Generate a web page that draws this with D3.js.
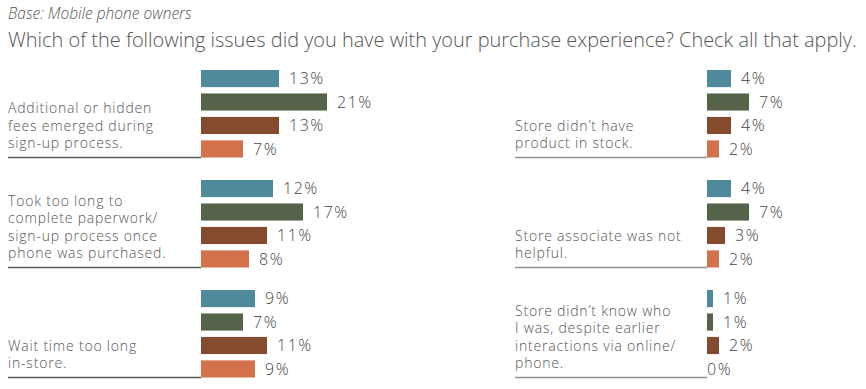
<!DOCTYPE html>
<html>
<head>
<meta charset="utf-8">
<script src="https://cdn.jsdelivr.net/npm/d3@7"></script>
<style>
    body { margin: 0; background: #fff; }
    svg { display: block; }
</style>
</head>
<body>
<div id="chart"></div>
<script>
// chart values
const issues = [
    ["Additional or hidden", "fees emerged during", "sign-up process."],
    ["Took too long to", "complete paperwork/", "sign-up process once", "phone was purchased."],
    ["Wait time too long", "in-store."],
    ["Store didn\u2019t have", "product in stock."],
    ["Store associate was not", "helpful."],
    ["Store didn\u2019t know who", "I was, despite earlier", "interactions via online/", "phone."]
];
const seriesColors = ["#4e8a9b", "#56634b", "#854b2e", "#d2714a"];
const series1 = [13, 12, 9, 4, 4, 1];
const series2 = [21, 17, 7, 7, 7, 1];
const series3 = [13, 11, 11, 4, 3, 2];
const series4 = [7, 8, 9, 2, 2, 0];
const allSeries = [series1, series2, series3, series4];

const baseText = "Base: Mobile phone owners";
const questionText = "Which of the following issues did you have with your purchase experience? Check all that apply.";

const width = 866,
    height = 389;

let svg = d3.select("#chart")
    .append("svg")
    .attr("width", width)
    .attr("height", height);

const font = "'Open Sans', sans-serif";
const textColor = "#555";

svg.append("text")
    .attr("x", 8)
    .attr("y", 19)
    .attr("font-family", font)
    .attr("font-style", "italic")
    .attr("font-weight", 300)
    .attr("font-size", 15.5)
    .attr("fill", textColor)
    .text(baseText);

let q = svg.append("text")
    .attr("x", 8)
    .attr("y", 47)
    .attr("font-family", font)
    .attr("font-weight", 300)
    .attr("font-size", 19)
    .attr("fill", textColor)
    .text(questionText);

// squeeze title to the reference width
let qLen = q.node().getComputedTextLength();
if (qLen > 0) q.attr("font-size", 19 * 849 / qLen);

// layout: two columns, three groups each
const columns = [
    { labelX: 8, barX: 201 },
    { labelX: 515, barX: 707 }
];

let x = d3.scaleLinear().domain([0, 21]).range([0, 126]);
let rowY = d3.scalePoint().domain([0, 1, 2]).range([70, 290]);
let barY = d3.scaleBand().domain(d3.range(4)).range([0, 87.5]).paddingInner(0.27).paddingOuter(0);

let groups = svg.selectAll(".group")
    .data(issues.map((lines, i) => ({
        lines: lines,
        col: columns[Math.floor(i / 3)],
        row: i % 3,
        values: allSeries.map(s => s[i])
    })))
    .enter()
    .append("g")
    .attr("class", "group")
    .attr("transform", d => `translate(0,${rowY(d.row)})`);

let bottom = barY(3) + barY.bandwidth();

// baseline under the label
groups.append("line")
    .attr("x1", d => d.col.labelX)
    .attr("x2", d => d.col.barX)
    .attr("y1", bottom)
    .attr("y2", bottom)
    .attr("stroke", (d, i) => i < 3 ? "#56605c" : "#8a9390")
    .attr("stroke-width", 1.5);

// wrapped category labels, bottom aligned
groups.append("text")
    .attr("font-family", font)
    .attr("font-weight", 300)
    .attr("font-size", 14)
    .attr("letter-spacing", 0.8)
    .attr("fill", textColor)
    .each(function (d) {
        let n = d.lines.length;
        d3.select(this).selectAll("tspan")
            .data(d.lines)
            .enter()
            .append("tspan")
            .attr("x", d.col.labelX)
            .attr("y", (l, k) => bottom - 9.5 - (n - 1 - k) * 17.5)
            .text(l => l);
    });

let bars = groups.selectAll(".bar")
    .data(d => d.values.map((v, k) => ({ v: v, k: k, x0: d.col.barX })))
    .enter();

bars.append("rect")
    .attr("class", "bar")
    .attr("x", d => d.x0)
    .attr("y", d => barY(d.k))
    .attr("width", d => x(d.v))
    .attr("height", barY.bandwidth())
    .attr("fill", d => seriesColors[d.k]);

bars.append("text")
    .attr("x", d => d.x0 + x(d.v) + (d.v ? 10 : 0))
    .attr("y", d => barY(d.k) + barY.bandwidth() / 2)
    .attr("dy", "0.35em")
    .attr("font-family", font)
    .attr("font-weight", 300)
    .attr("font-size", 16)
    .attr("letter-spacing", 1.5)
    .attr("fill", "#444")
    .text(d => d.v + "%");
</script>
</body>
</html>
